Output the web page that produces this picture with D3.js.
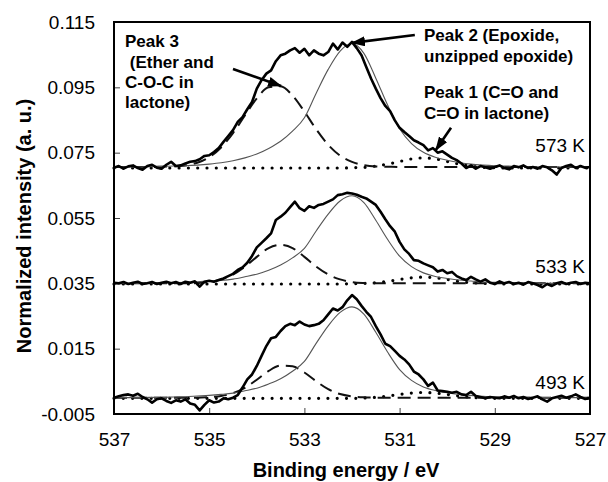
<!DOCTYPE html>
<html>
<head>
<meta charset="utf-8">
<script src="https://cdn.jsdelivr.net/npm/d3@7"></script>
<style>
  body { margin: 0; background: #fff; }
  text { font-family: "Liberation Sans", Arial, sans-serif; fill: #000; }
</style>
</head>
<body>
<svg id="chart" width="608" height="482"></svg>
<script>
// axes
const xTicks = [537, 535, 533, 531, 529, 527];
const yTicks = [-0.005, 0.015, 0.035, 0.055, 0.075, 0.095, 0.115];

// sampling grids (binding energy, eV)
const expEnergy = d3.range(101).map(i => +(537 - i * 0.1).toFixed(1));
const fitEnergy = d3.range(41).map(i => +(537 - i * 0.25).toFixed(2));

// measured spectra (thick line)
const exp573 = [
  .0704, .0709, .0701, .0708, .0711, .0703, .0698, .0709, .0713, .0704, .0701,
  .0713, .0722, .0709, .0711, .0717, .0722, .0724, .0730, .0740, .0742,
  .0752, .0764, .0783, .0801, .0819, .0844, .0859, .0883, .0905, .0946,
  .0972, .0992, .1002, .1030, .1048, .1053, .1063, .1070, .1056, .1068,
  .1048, .1063, .1053, .1048, .1058, .1084, .1066, .1087, .1074, .1089,
  .1070, .1048, .1012, .0977, .0946, .0917, .0893, .0877, .0849, .0826,
  .0813, .0801, .0788, .0781, .0773, .0757, .0764, .0750, .0754, .0744,
  .0734, .0727, .0717, .0703, .0711, .0701, .0709, .0705, .0701, .0706,
  .0711, .0703, .0699, .0709, .0705, .0711, .0703, .0706, .0701, .0709,
  .0705, .0696, .0683, .0703, .0709, .0713, .0703, .0709, .0704, .0706
];
const exp533 = [
  .0352, .0350, .0354, .0348, .0352, .0355, .0348, .0350, .0354, .0348, .0352,
  .0355, .0350, .0354, .0348, .0355, .0352, .0356, .0340, .0355, .0358,
  .0355, .0360, .0365, .0372, .0379, .0391, .0399, .0413, .0434, .0460,
  .0474, .0488, .0503, .0544, .0554, .0566, .0583, .0600, .0580, .0572,
  .0586, .0581, .0590, .0593, .0600, .0607, .0620, .0623, .0627, .0625,
  .0621, .0615, .0610, .0600, .0590, .0569, .0546, .0525, .0508, .0477,
  .0454, .0440, .0421, .0419, .0411, .0405, .0399, .0386, .0391, .0381,
  .0385, .0372, .0365, .0360, .0370, .0362, .0355, .0362, .0352, .0348,
  .0356, .0350, .0354, .0348, .0352, .0346, .0354, .0350, .0345, .0338,
  .0348, .0342, .0350, .0354, .0348, .0352, .0354, .0348, .0352, .0350
];
const exp493 = [
  0, .0004, .0008, .0010, .0006, .0012, .0002, -.0005, -.0015, -.0005, -.0002,
  -.0010, -.0016, -.0008, -.0012, -.0005, -.0018, -.0022, -.0039, -.0022, -.0008,
  -.0015, -.0012, -.0002, -.0005, 0, .0008, .0031, .0056, .0071, .0097,
  .0128, .0158, .0182, .0186, .0204, .0219, .0226, .0222, .0233, .0224,
  .0219, .0222, .0226, .0237, .0255, .0273, .0267, .0277, .0298, .0314,
  .0301, .0281, .0263, .0247, .0219, .0194, .0165, .0158, .0143, .0128,
  .0117, .0102, .0080, .0071, .0056, .0036, .0046, .0022, .0020, .0018,
  .0015, .0018, .0010, .0008, .0018, .0005, .0002, -.0002, .0002, 0,
  -.0002, .0004, 0, .0005, -.0002, .0002, -.0004, 0, .0004, -.0005,
  -.0012, -.0002, .0002, .0006, 0, .0004, .0010, .0002, -.0004, 0
];

// Peak 2 fit (thin grey line)
const peak2_573 = [
  .0706, .0706, .0706, .0707, .0708, .0709, .0710, .0712, .0715, .0719, .0725,
  .0734, .0746, .0763, .0785, .0816, .0857, .0933, .1005, .1061, .1084,
  .1054, .0978, .0895, .0823, .0778, .0751, .0736, .0727, .0720, .0715,
  .0712, .0710, .0709, .0708, .0707, .0706, .0706, .0706, .0706, .0706
];
const peak2_533 = [
  .0350, .0350, .0350, .0351, .0351, .0352, .0353, .0355, .0357, .0359, .0363,
  .0370, .0378, .0390, .0406, .0428, .0457, .0511, .0562, .0602, .0618,
  .0597, .0543, .0484, .0433, .0401, .0382, .0371, .0365, .0360, .0357,
  .0354, .0353, .0352, .0351, .0351, .0350, .0350, .0350, .0350, .0350
];
const peak2_493 = [
  0, 0, 0, .0001, .0001, .0002, .0003, .0005, .0007, .0010, .0014,
  .0021, .0029, .0042, .0058, .0081, .0111, .0167, .0220, .0261, .0278,
  .0256, .0200, .0139, .0086, .0053, .0033, .0022, .0015, .0010, .0007,
  .0004, .0003, .0002, .0001, .0001, 0, 0, 0, 0, 0
];

// Peak 3 fit (dashed line)
const peak3_573 = [
  .0706, .0706, .0706, .0706, .0707, .0708, .0711, .0719, .0736, .0766, .0810,
  .0864, .0916, .0950, .0953, .0925, .0876, .0821, .0774, .0741, .0722,
  .0712, .0708, .0707, .0706, .0706, .0706, .0706, .0706, .0706, .0706,
  .0706, .0706, .0706, .0706, .0706, .0706, .0706, .0706, .0706, .0706
];
const peak3_533 = [
  .0350, .0350, .0350, .0350, .0350, .0350, .0350, .0351, .0354, .0362, .0377,
  .0401, .0431, .0458, .0468, .0458, .0431, .0401, .0377, .0362, .0354,
  .0351, .0350, .0350, .0350, .0350, .0350, .0350, .0350, .0350, .0350,
  .0350, .0350, .0350, .0350, .0350, .0350, .0350, .0350, .0350, .0350
];
const peak3_493 = [
  0, 0, 0, 0, 0, 0, 0, 0, .0002, .0005, .0014,
  .0030, .0055, .0082, .0098, .0096, .0077, .0050, .0026, .0011, .0004,
  .0001, 0, 0, 0, 0, 0, 0, 0, 0, 0,
  0, 0, 0, 0, 0, 0, 0, 0, 0, 0
];

// Peak 1 fit (dotted line)
const peak1_573 = [
  .0703, .0703, .0703, .0703, .0703, .0703, .0703, .0703, .0703, .0703, .0703,
  .0703, .0703, .0703, .0703, .0703, .0703, .0703, .0703, .0703, .0704,
  .0705, .0709, .0715, .0723, .0731, .0734, .0731, .0723, .0715, .0709,
  .0705, .0704, .0703, .0703, .0703, .0703, .0703, .0703, .0703, .0703
];
const peak1_533 = [
  .0348, .0348, .0348, .0348, .0348, .0348, .0348, .0348, .0348, .0348, .0348,
  .0348, .0348, .0348, .0348, .0348, .0348, .0348, .0348, .0348, .0349,
  .0350, .0352, .0356, .0362, .0367, .0369, .0367, .0362, .0356, .0352,
  .0350, .0349, .0348, .0348, .0348, .0348, .0348, .0348, .0348, .0348
];
const peak1_493 = [
  -.0002, -.0002, -.0002, -.0002, -.0002, -.0002, -.0002, -.0002, -.0002, -.0002, -.0002,
  -.0002, -.0002, -.0002, -.0002, -.0002, -.0002, -.0002, -.0002, -.0002, -.0002,
  -.0001, .0001, .0005, .0010, .0014, .0016, .0014, .0010, .0005, .0001,
  -.0001, -.0002, -.0002, -.0002, -.0002, -.0002, -.0002, -.0002, -.0002, -.0002
];

const tempLabels = ["573 K", "533 K", "493 K"];

//---------------------------------------------------------------------------------------

const svg = d3.select("#chart");
svg.append("rect").attr("width", 608).attr("height", 482).attr("fill", "#fff");

const plot = { left: 114, right: 590, top: 22, bottom: 414 };

const x = d3.scaleLinear().domain([537, 527]).range([plot.left, plot.right]);
const y = d3.scaleLinear().domain([-0.005, 0.115]).range([plot.bottom, plot.top]);

// axes, ticks pointing inwards
const yAxis = svg.append("g")
  .attr("transform", `translate(${plot.left},0)`)
  .call(d3.axisLeft(y).tickValues(yTicks).tickSize(-6).tickPadding(19)
    .tickFormat(d => d.toFixed(3)));

const xAxis = svg.append("g")
  .attr("transform", `translate(0,${plot.bottom})`)
  .call(d3.axisBottom(x).tickValues(xTicks).tickSize(-6).tickPadding(19)
    .tickFormat(d3.format("d")));

[xAxis, yAxis].forEach(a => {
  a.select(".domain").remove();
  a.selectAll(".tick line").attr("stroke", "#444").attr("stroke-width", 1);
  a.selectAll(".tick text")
    .style("font-family", '"Liberation Sans", Arial, sans-serif')
    .style("font-size", "19px")
    .attr("fill", "#111");
});

// axis titles
svg.append("text")
  .attr("x", 346).attr("y", 477)
  .attr("text-anchor", "middle")
  .style("font-size", "20px").style("font-weight", "bold")
  .text("Binding energy / eV");

svg.append("text")
  .attr("transform", "translate(31,226) rotate(-90)")
  .attr("text-anchor", "middle")
  .style("font-size", "20px").style("font-weight", "bold")
  .text("Normalized intensity (a. u.)");

//---------------------------------------------------------------------------------------

// curves
const lineExp = d3.line().x((d, i) => x(expEnergy[i])).y(d => y(d));
const lineFit = d3.line().x((d, i) => x(fitEnergy[i])).y(d => y(d)).curve(d3.curveMonotoneX);

const curves = svg.append("g");

[peak1_573, peak1_533, peak1_493].forEach(s => {
  curves.append("path").attr("d", lineFit(s))
    .attr("fill", "none").attr("stroke", "#000")
    .attr("stroke-width", 3.2).attr("stroke-linecap", "round")
    .attr("stroke-dasharray", "0 9.3");
});

[peak3_573, peak3_533, peak3_493].forEach(s => {
  curves.append("path").attr("d", lineFit(s))
    .attr("fill", "none").attr("stroke", "#111")
    .attr("stroke-width", 2).attr("stroke-dasharray", "13 7");
});

[peak2_573, peak2_533, peak2_493].forEach(s => {
  curves.append("path").attr("d", lineFit(s))
    .attr("fill", "none").attr("stroke", "#555")
    .attr("stroke-width", 1.1);
});

[exp573, exp533, exp493].forEach(s => {
  curves.append("path").attr("d", lineExp(s))
    .attr("fill", "none").attr("stroke", "#000")
    .attr("stroke-width", 2.6).attr("stroke-linejoin", "round");
});

// frame
svg.append("rect")
  .attr("x", plot.left).attr("y", plot.top)
  .attr("width", plot.right - plot.left).attr("height", plot.bottom - plot.top)
  .attr("fill", "none").attr("stroke", "#000").attr("stroke-width", 2);

//---------------------------------------------------------------------------------------

// temperature labels
const tempY = [152, 273, 389];
svg.selectAll(".temp")
  .data(tempLabels)
  .join("text")
  .attr("class", "temp")
  .attr("x", 585).attr("y", (d, i) => tempY[i])
  .attr("text-anchor", "end")
  .style("font-size", "19px")
  .text(d => d);

// annotations
const notes = [
  { x: 125, y: 47, t: "Peak 3" },
  { x: 125, y: 68, t: "\u00a0(Ether and" },
  { x: 125, y: 88, t: "C-O-C in" },
  { x: 125, y: 108, t: "lactone)" },
  { x: 424, y: 41, t: "Peak 2 (Epoxide," },
  { x: 424, y: 62, t: "unzipped epoxide)" },
  { x: 424, y: 98, t: "Peak 1 (C=O and" },
  { x: 424, y: 119, t: "C=O in lactone)" },
];
svg.selectAll(".note")
  .data(notes)
  .join("text")
  .attr("class", "note")
  .attr("x", d => d.x).attr("y", d => d.y)
  .style("font-size", "17px").style("font-weight", "bold")
  .text(d => d.t);

svg.append("defs").append("marker")
  .attr("id", "arrow")
  .attr("viewBox", "0 0 14 10")
  .attr("refX", 13).attr("refY", 5)
  .attr("markerWidth", 14).attr("markerHeight", 10)
  .attr("markerUnits", "userSpaceOnUse")
  .attr("orient", "auto")
  .append("path")
  .attr("d", "M0,0L14,5L0,10Z")
  .attr("fill", "#000");

// arrows, given in data coordinates (energy, intensity)
const arrows = [
  [[534.5, 0.1006], [533.49, 0.0954]],
  [[530.68, 0.1110], [532.0, 0.1086]],
  [[529.92, 0.0826], [530.24, 0.0758]],
];
svg.selectAll(".arrow")
  .data(arrows)
  .join("line")
  .attr("class", "arrow")
  .attr("x1", d => x(d[0][0])).attr("y1", d => y(d[0][1]))
  .attr("x2", d => x(d[1][0])).attr("y2", d => y(d[1][1]))
  .attr("stroke", "#000").attr("stroke-width", 2.6)
  .attr("marker-end", "url(#arrow)");
</script>
</body>
</html>
